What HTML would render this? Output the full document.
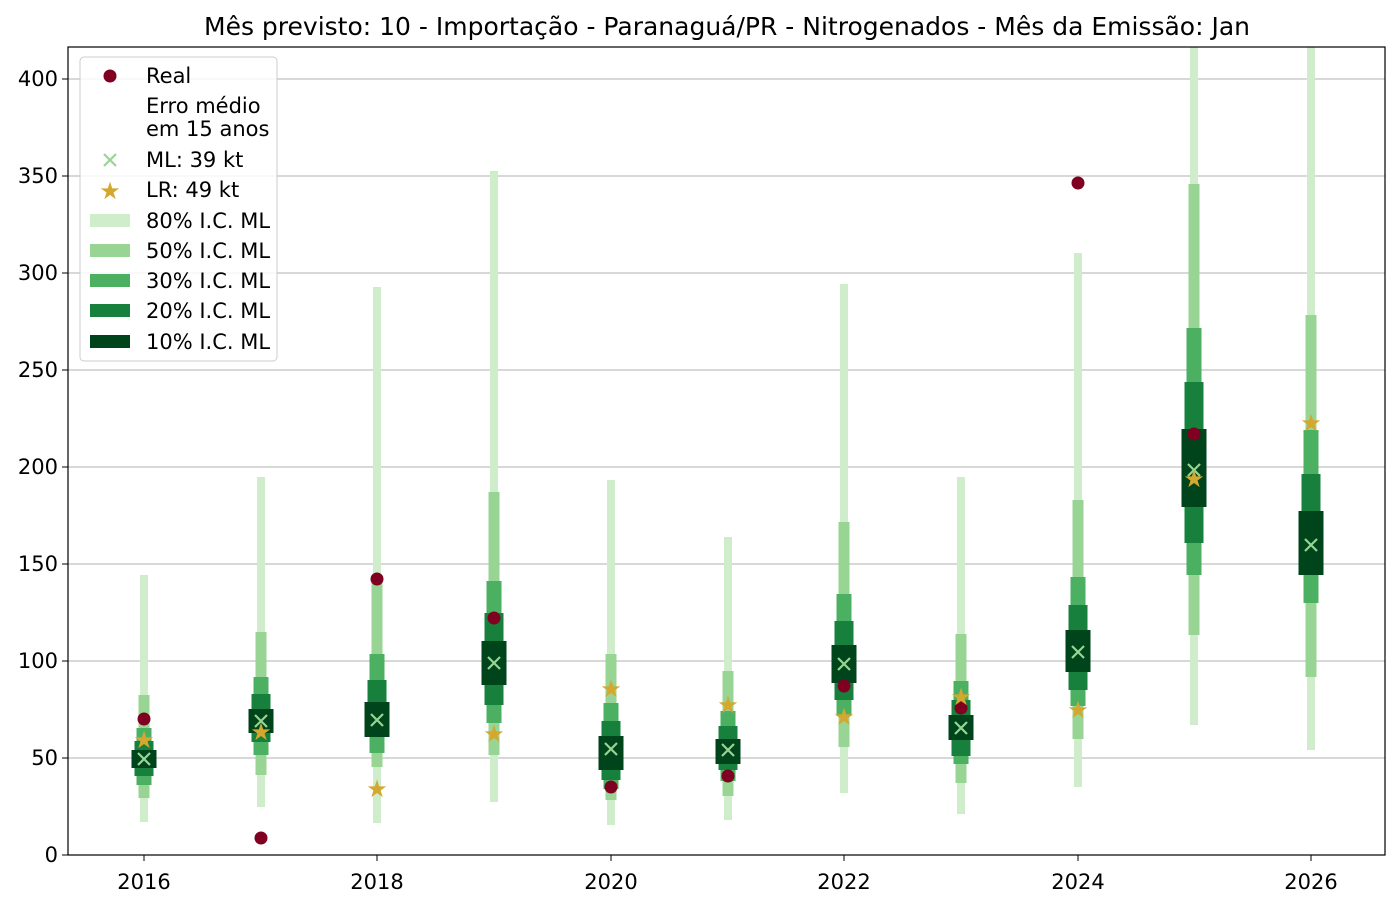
<!DOCTYPE html>
<html><head><meta charset="utf-8"><style>
body{margin:0;background:#fff}
text{font-family:"DejaVu Sans","Liberation Sans",sans-serif;fill:#000}
.s{fill:#d4a82e}
</style></head><body>
<svg width="1400" height="906" xmlns="http://www.w3.org/2000/svg">
<rect width="1400" height="906" fill="#fff"/>
<g stroke="#b0b0b0" stroke-width="1">
<line x1="68" x2="1385" y1="758" y2="758"/><line x1="68" x2="1385" y1="661" y2="661"/>
<line x1="68" x2="1385" y1="564" y2="564"/><line x1="68" x2="1385" y1="467" y2="467"/>
<line x1="68" x2="1385" y1="370" y2="370"/><line x1="68" x2="1385" y1="273" y2="273"/>
<line x1="68" x2="1385" y1="176" y2="176"/><line x1="68" x2="1385" y1="79" y2="79"/>
</g>
<g>
<rect x="140" y="575" width="8" height="247" fill="#cfeccb"/><rect x="138.5" y="695" width="11" height="103" fill="#98d594"/><rect x="136.5" y="728" width="15" height="57" fill="#4bb062"/><rect x="134.5" y="741" width="19" height="35" fill="#16803c"/><rect x="131.5" y="750" width="25" height="18" fill="#00441b"/>
<rect x="257" y="477" width="8" height="330" fill="#cfeccb"/><rect x="255.5" y="632" width="11" height="143" fill="#98d594"/><rect x="253.5" y="677" width="15" height="78" fill="#4bb062"/><rect x="251.5" y="694" width="19" height="48" fill="#16803c"/><rect x="248.5" y="709" width="25" height="24" fill="#00441b"/>
<rect x="373" y="287" width="8" height="536" fill="#cfeccb"/><rect x="371.5" y="580" width="11" height="187" fill="#98d594"/><rect x="369.5" y="654" width="15" height="99" fill="#4bb062"/><rect x="367.5" y="680" width="19" height="55" fill="#16803c"/><rect x="364.5" y="702" width="25" height="35" fill="#00441b"/>
<rect x="490" y="171" width="8" height="631" fill="#cfeccb"/><rect x="488.5" y="492" width="11" height="263" fill="#98d594"/><rect x="486.5" y="581" width="15" height="142" fill="#4bb062"/><rect x="484.5" y="613" width="19" height="92" fill="#16803c"/><rect x="481.5" y="641" width="25" height="44" fill="#00441b"/>
<rect x="607" y="480" width="8" height="345" fill="#cfeccb"/><rect x="605.5" y="654" width="11" height="146" fill="#98d594"/><rect x="603.5" y="703" width="15" height="86" fill="#4bb062"/><rect x="601.5" y="721" width="19" height="59" fill="#16803c"/><rect x="598.5" y="736" width="25" height="34" fill="#00441b"/>
<rect x="724" y="537" width="8" height="283" fill="#cfeccb"/><rect x="722.5" y="671" width="11" height="125" fill="#98d594"/><rect x="720.5" y="711" width="15" height="70" fill="#4bb062"/><rect x="718.5" y="726" width="19" height="44" fill="#16803c"/><rect x="715.5" y="739" width="25" height="25" fill="#00441b"/>
<rect x="840" y="284" width="8" height="509" fill="#cfeccb"/><rect x="838.5" y="522" width="11" height="225" fill="#98d594"/><rect x="836.5" y="594" width="15" height="122" fill="#4bb062"/><rect x="834.5" y="621" width="19" height="79" fill="#16803c"/><rect x="831.5" y="645" width="25" height="38" fill="#00441b"/>
<rect x="957" y="477" width="8" height="337" fill="#cfeccb"/><rect x="955.5" y="634" width="11" height="149" fill="#98d594"/><rect x="953.5" y="681" width="15" height="83" fill="#4bb062"/><rect x="951.5" y="700" width="19" height="56" fill="#16803c"/><rect x="948.5" y="715" width="25" height="25" fill="#00441b"/>
<rect x="1074" y="253" width="8" height="534" fill="#cfeccb"/><rect x="1072.5" y="500" width="11" height="239" fill="#98d594"/><rect x="1070.5" y="577" width="15" height="129" fill="#4bb062"/><rect x="1068.5" y="605" width="19" height="85" fill="#16803c"/><rect x="1065.5" y="630" width="25" height="42" fill="#00441b"/>
<rect x="1190" y="47" width="8" height="678" fill="#cfeccb"/><rect x="1188.5" y="184" width="11" height="451" fill="#98d594"/><rect x="1186.5" y="328" width="15" height="247" fill="#4bb062"/><rect x="1184.5" y="382" width="19" height="161" fill="#16803c"/><rect x="1181.5" y="429" width="25" height="78" fill="#00441b"/>
<rect x="1307" y="47" width="8" height="703" fill="#cfeccb"/><rect x="1305.5" y="315" width="11" height="362" fill="#98d594"/><rect x="1303.5" y="430" width="15" height="173" fill="#4bb062"/><rect x="1301.5" y="474" width="19" height="101" fill="#16803c"/><rect x="1298.5" y="511" width="25" height="64" fill="#00441b"/>
</g>
<g stroke="#98d594" stroke-width="2.2" fill="none">
<path d="M138 753l12 12M150 753l-12 12"/>
<path d="M255 715l12 12M267 715l-12 12"/>
<path d="M371 714l12 12M383 714l-12 12"/>
<path d="M488 657l12 12M500 657l-12 12"/>
<path d="M605 743l12 12M617 743l-12 12"/>
<path d="M722 744l12 12M734 744l-12 12"/>
<path d="M838 658l12 12M850 658l-12 12"/>
<path d="M955 722l12 12M967 722l-12 12"/>
<path d="M1072 646l12 12M1084 646l-12 12"/>
<path d="M1188 464l12 12M1200 464l-12 12"/>
<path d="M1305 539l12 12M1317 539l-12 12"/>
</g>
<g fill="#7f0020">
<circle cx="144" cy="719" r="6.5"/><circle cx="261" cy="838" r="6.5"/><circle cx="377" cy="579" r="6.5"/><circle cx="494" cy="618" r="6.5"/><circle cx="611" cy="787" r="6.5"/><circle cx="728" cy="776" r="6.5"/><circle cx="844" cy="686" r="6.5"/><circle cx="961" cy="708" r="6.5"/><circle cx="1078" cy="183" r="6.5"/><circle cx="1194" cy="434" r="6.5"/>
</g>
<g font-size="24" text-anchor="middle">
<text class="s" x="144" y="748">★</text><text class="s" x="261" y="740">★</text><text class="s" x="377" y="797">★</text><text class="s" x="494" y="742">★</text><text class="s" x="611" y="697">★</text><text class="s" x="728" y="713">★</text><text class="s" x="844" y="725">★</text><text class="s" x="961" y="705">★</text><text class="s" x="1078" y="718">★</text><text class="s" x="1194" y="487">★</text><text class="s" x="1311" y="431">★</text>
</g>
<rect x="68" y="47" width="1317" height="808" fill="none" stroke="#000" stroke-width="1.2"/>
<g font-size="21" text-anchor="end">
<text x="58" y="862">0</text><text x="58" y="765">50</text><text x="58" y="668">100</text>
<text x="58" y="571">150</text><text x="58" y="474">200</text><text x="58" y="377">250</text>
<text x="58" y="280">300</text><text x="58" y="183">350</text><text x="58" y="86">400</text>
</g>
<g stroke="#000"><line x1="62" x2="68" y1="855" y2="855"/><line x1="62" x2="68" y1="758" y2="758"/><line x1="62" x2="68" y1="661" y2="661"/><line x1="62" x2="68" y1="564" y2="564"/><line x1="62" x2="68" y1="467" y2="467"/><line x1="62" x2="68" y1="370" y2="370"/><line x1="62" x2="68" y1="273" y2="273"/><line x1="62" x2="68" y1="176" y2="176"/><line x1="62" x2="68" y1="79" y2="79"/></g>
<g font-size="21" text-anchor="middle">
<text x="144" y="889">2016</text><text x="377" y="889">2018</text><text x="611" y="889">2020</text><text x="844" y="889">2022</text><text x="1078" y="889">2024</text><text x="1311" y="889">2026</text>
</g>
<g stroke="#000"><line x1="144" x2="144" y1="855" y2="861"/><line x1="377" x2="377" y1="855" y2="861"/><line x1="611" x2="611" y1="855" y2="861"/><line x1="844" x2="844" y1="855" y2="861"/><line x1="1078" x2="1078" y1="855" y2="861"/><line x1="1311" x2="1311" y1="855" y2="861"/></g>
<text x="727" y="35" font-size="25" text-anchor="middle">Mês previsto: 10 - Importação - Paranaguá/PR - Nitrogenados - Mês da Emissão: Jan</text>
<g font-size="21">
<rect x="80" y="57" width="197" height="304" rx="4" fill="#fff" fill-opacity="0.85" stroke="#ccc"/>
<circle cx="110" cy="76" r="6.5" fill="#7f0020"/>
<text x="146" y="83">Real</text>
<text x="146" y="113">Erro médio</text>
<text x="146" y="136">em 15 anos</text>
<path d="M104 154l12 12M116 154l-12 12" stroke="#98d594" stroke-width="2.2"/>
<text x="146" y="167">ML: 39 kt</text>
<text x="110" y="199" font-size="24" text-anchor="middle" class="s">★</text>
<text x="146" y="197">LR: 49 kt</text>
<rect x="90" y="214" width="40" height="13" fill="#cfeccb"/><text x="146" y="228">80% I.C. ML</text>
<rect x="90" y="244" width="40" height="13" fill="#98d594"/><text x="146" y="258">50% I.C. ML</text>
<rect x="90" y="274" width="40" height="13" fill="#4bb062"/><text x="146" y="288">30% I.C. ML</text>
<rect x="90" y="304" width="40" height="13" fill="#16803c"/><text x="146" y="318">20% I.C. ML</text>
<rect x="90" y="335" width="40" height="13" fill="#00441b"/><text x="146" y="349">10% I.C. ML</text>
</g>
</svg>
</body></html>
